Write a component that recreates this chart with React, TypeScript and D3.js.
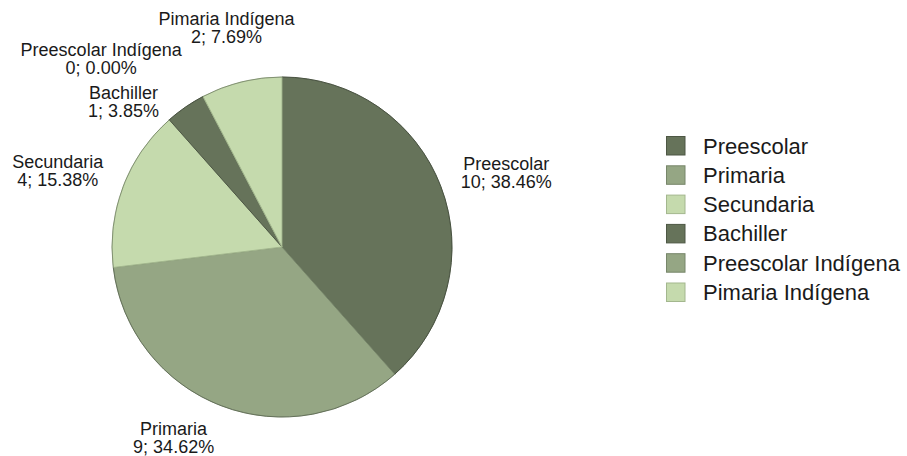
import React from "react";
import * as d3 from "d3";

const categories = ["Preescolar", "Primaria", "Secundaria", "Bachiller", "Preescolar Indígena", "Pimaria Indígena"];
const values = [10, 9, 4, 1, 0, 2];
const percentLabels = ["38.46%", "34.62%", "15.38%", "3.85%", "0.00%", "7.69%"];

const fills = ["#66735a", "#95a684", "#c5daad"];
const strokes = ["#4d5744", "#77866a", "#a3b78e"];

// layout tweaks for the data labels (pixel offsets from the computed anchor)
const labelNudge: [number, number][] = [
  [1, -7],
  [-41, -5],
  [-1, -9],
  [-15, 29],
  [-12, -2],
  [-10, -17],
];

const W = 907;
const H = 456;
const cx = 282;
const cy = 247;
const r = 170;
const labelR = 190;
const labelFont = 18;
const lineH = 18.4;
const legendFont = 22;
const fontFamily = "'Liberation Sans', Arial, sans-serif";

function measure(text: string, size: number): number {
  if (typeof document === "undefined") return text.length * size * 0.55;
  const c = (measure as any).c || ((measure as any).c = document.createElement("canvas"));
  const ctx = c.getContext("2d");
  ctx.font = `${size}px ${fontFamily}`;
  return ctx.measureText(text).width;
}

export default function App() {
  const pie = d3.pie<number>().sort(null).value((d) => d)(values);
  const arc = d3.arc<d3.PieArcDatum<number>>().innerRadius(0).outerRadius(r);

  const labels = pie.map((p, i) => {
    const mid = (p.startAngle + p.endAngle) / 2; // clockwise from top
    const dx = Math.sin(mid);
    const dy = -Math.cos(mid);
    const px = labelR * dx;
    const py = labelR * dy;
    const line1 = categories[i];
    const line2 = `${values[i]}; ${percentLabels[i]}`;
    const w = Math.max(measure(line1, labelFont), measure(line2, labelFont));
    const h = 36;
    // math angle (ccw from 3 o'clock)
    let deg = 90 - (mid * 180) / Math.PI;
    deg = ((deg % 360) + 360) % 360;
    let ox = 0;
    let oy = 0;
    if (deg <= 22.5 || deg >= 337.5) { ox = w / 2; }
    else if (deg < 67.5) { ox = w / 2; oy = -h / 2; }
    else if (deg < 112.5) { oy = -h / 2; }
    else if (deg <= 157.5) { ox = -w / 2; oy = -h / 2; }
    else if (deg <= 202.5) { ox = -w / 2; }
    else if (deg < 247.5) { ox = -w / 2; oy = h / 2; }
    else if (deg < 292.5) { oy = h / 2; }
    else { ox = w / 2; oy = h / 2; }
    const x = cx + px + ox + labelNudge[i][0];
    const y = cy + py + oy + labelNudge[i][1];
    return { x, y, line1, line2 };
  });

  const legendX = 666;
  const legendY0 = 136;
  const legendStep = 29.3;
  const sw = 19.5;

  return (
    <svg width={W} height={H} style={{ position: "absolute", left: 0, top: 0, background: "#fff" }} fontFamily={fontFamily}>
      <g transform={`translate(${cx},${cy})`}>
        {pie.map((p, i) => (
          <path key={i} d={arc(p) || ""} fill={fills[i % 3]} stroke={strokes[i % 3]} strokeWidth={1} strokeLinejoin="round" />
        ))}
        <circle r={r} fill="none" stroke="#3f4738" strokeOpacity={0.35} strokeWidth={1} />
      </g>
      {labels.map((l, i) => (
        <text key={i} x={l.x} textAnchor="middle" fontSize={labelFont} fill="#1a1a1a">
          <tspan x={l.x} y={l.y - lineH / 2 + 6.4}>{l.line1}</tspan>
          <tspan x={l.x} y={l.y + lineH / 2 + 6.4}>{l.line2}</tspan>
        </text>
      ))}
      {categories.map((c, i) => (
        <g key={c} transform={`translate(${legendX},${legendY0 + i * legendStep})`}>
          <rect x={0.5} y={0.5} width={sw - 1} height={sw - 1} fill={fills[i % 3]} stroke={strokes[i % 3]} strokeWidth={1} />
          <text x={37} y={sw / 2 + 7.8} fontSize={legendFont} fill="#1a1a1a">{c}</text>
        </g>
      ))}
    </svg>
  );
}
